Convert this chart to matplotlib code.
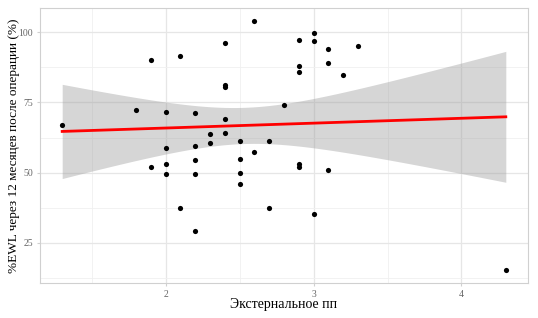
import numpy as np
import matplotlib
matplotlib.use("Agg")
import matplotlib.pyplot as plt

ext = [1.3, 1.8, 1.9, 1.9, 2.0, 2.0, 2.0, 2.0, 2.1, 2.1,
       2.2, 2.2, 2.2, 2.2, 2.2, 2.3, 2.3, 2.4, 2.4, 2.4,
       2.4, 2.4, 2.5, 2.5, 2.5, 2.5, 2.6, 2.6, 2.7, 2.7,
       2.8, 2.9, 2.9, 2.9, 2.9, 2.9, 3.0, 3.0, 3.0, 3.1,
       3.1, 3.1, 3.2, 3.3, 4.3]
ewl = [67.1, 72.3, 90.1, 52.0, 71.6, 58.9, 53.1, 49.6, 91.7, 37.2,
       71.2, 59.5, 54.6, 49.5, 29.0, 63.6, 60.6, 96.1, 81.2, 80.4,
       69.0, 64.1, 61.2, 54.8, 50.0, 46.0, 104.0, 57.2, 61.1, 37.5,
       74.0, 97.4, 87.9, 86.0, 53.1, 52.1, 99.9, 96.8, 35.1, 93.9,
       89.2, 51.0, 84.9, 95.2, 15.3]
xticks = [2, 3, 4]
yticks = [25, 50, 75, 100]
xlabel = "Экстернальное пп"
ylabel = "%EWL через 12 месяцев после операции (%)"

x = np.array(ext); y = np.array(ewl)
n = len(x)
b, a = np.polyfit(x, y, 1)
xs = np.linspace(x.min(), x.max(), 80)
yhat = a + b * xs
resid = y - (a + b * x)
s = np.sqrt(np.sum(resid**2) / (n - 2))
sxx = np.sum((x - x.mean())**2)
se = s * np.sqrt(1.0 / n + (xs - x.mean())**2 / sxx)
tq = 2.0167
lo, hi = yhat - tq * se, yhat + tq * se

fig = plt.figure(figsize=(5.38, 3.18), dpi=100)
ax = fig.add_axes([40/538, 1-283/318, 488/538, 275/318])
ax.fill_between(xs, lo, hi, color="#999999", alpha=0.4, lw=0, zorder=2)
ax.plot(xs, yhat, color="#FF0000", lw=2, zorder=3)
ax.scatter(x, y, s=14, color="black", zorder=4, lw=0)

ax.set_xlim(1.15, 4.45)
ax.set_ylim(10.6, 108.7)
ax.set_xticks(xticks)
ax.set_yticks(yticks)
ax.set_xticks([1.5, 2.5, 3.5], minor=True)
ax.set_yticks([12.5, 37.5, 62.5, 87.5], minor=True)
ax.grid(True, which="major", color="#E6E6E6", lw=0.9)
ax.grid(True, which="minor", color="#F0F0F0", lw=0.6)
ax.set_axisbelow(True)
for sp in ax.spines.values():
    sp.set_color("#D0D0D0")
    sp.set_linewidth(0.8)
ax.tick_params(which="major", length=2.5, color="#D0D0D0", labelsize=7,
               labelcolor="#666666", pad=2.5)
ax.tick_params(which="minor", length=0)
for lab in ax.get_xticklabels() + ax.get_yticklabels():
    lab.set_family("Liberation Serif")
ax.set_xlabel(xlabel, family="Liberation Serif", fontsize=10, labelpad=-1)
ax.set_ylabel(ylabel, family="Liberation Serif", fontsize=9.5)
ax.yaxis.set_label_coords(-0.042, 0.5)
fig.savefig("out.png", dpi=100)
